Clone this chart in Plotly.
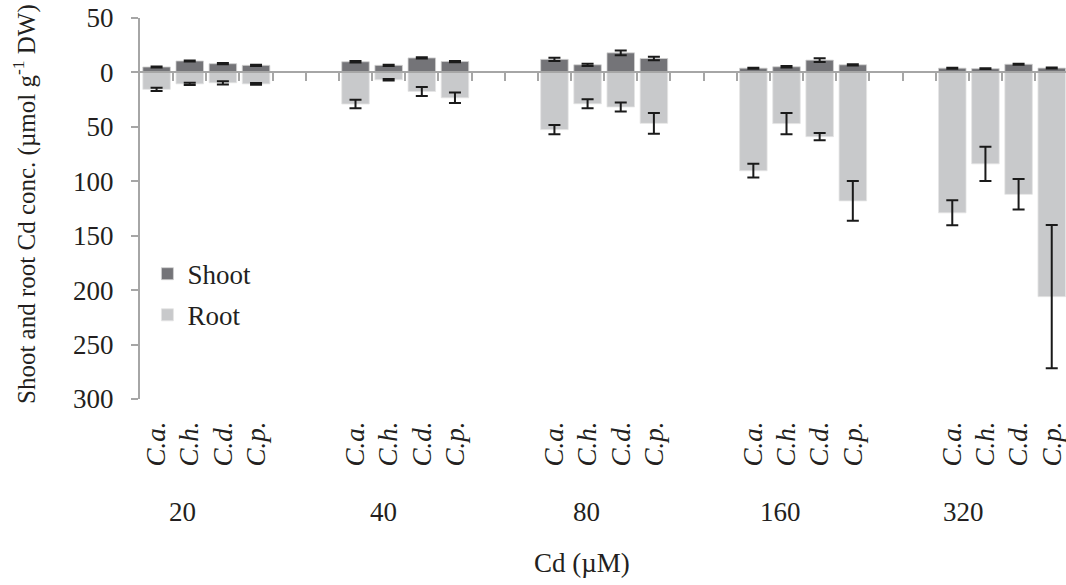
import plotly.graph_objects as go

species = ["C.a.", "C.h.", "C.d.", "C.p."]
concentrations = ["20", "40", "80", "160", "320"]

shoot_mean = [5.0, 10.5, 8.0, 6.5, 9.8, 6.5, 13.3, 10.0, 12.0, 7.0, 18.0, 12.8,
              3.9, 5.2, 11.3, 7.0, 3.9, 3.5, 7.5, 4.0]
shoot_err = [0.5, 0.5, 0.6, 0.5, 0.6, 0.5, 0.6, 0.6, 1.5, 1.0, 2.2, 1.6,
             0.5, 0.6, 1.7, 0.6, 0.5, 0.4, 0.5, 0.5]
root_mean = [15.5, 10.5, 9.5, 10.5, 29.0, 6.7, 17.5, 23.3, 52.5, 28.8, 31.7, 46.8,
             90.3, 47.0, 59.0, 118.0, 129.0, 84.0, 112.0, 206.0]
root_err = [1.5, 1.0, 1.5, 0.8, 4.0, 0.6, 4.2, 4.8, 4.3, 4.1, 4.1, 9.5,
            6.3, 9.7, 3.4, 18.2, 11.5, 15.7, 14.0, 65.8]

y_tick_vals = [50, 0, -50, -100, -150, -200, -250, -300]
y_tick_text = ["50", "0", "50", "100", "150", "200", "250", "300"]

FONT = "Liberation Serif, Times New Roman, serif"
FS = 27
TXT = "#231f20"
AX = "#a6a6a6"

# slot layout: 4 species per group, 2 empty slots between groups
xpos = [6 * g + s for g in range(len(concentrations)) for s in range(len(species))]
group_label_x = [0.77, 6.83, 12.98, 18.81, 24.33]

fig = go.Figure()
fig.add_trace(go.Bar(
    x=xpos, y=shoot_mean, name="Shoot", width=0.83,
    marker=dict(color="#747478", line=dict(color="#d0d0d0", width=0.8)),
    error_y=dict(type="data", array=shoot_err, color="#1a1a1a", thickness=2, width=6),
    legendgroup="a",
))
fig.add_trace(go.Bar(
    x=xpos, y=[-v for v in root_mean], name="Root", width=0.83,
    marker=dict(color="#c8c9cb", line=dict(color="#e4e4e4", width=0.8)),
    error_y=dict(type="data", array=root_err, color="#1a1a1a", thickness=2, width=6),
    legendgroup="b",
))
# invisible trace carrying species tick labels on bottom axis
fig.add_trace(go.Scatter(
    x=xpos, y=[0] * len(xpos), xaxis="x2", mode="markers",
    marker=dict(opacity=0), showlegend=False, hoverinfo="skip",
))

xr = [-0.5, 27.43]
fig.update_layout(
    width=1066, height=585,
    margin=dict(l=140, r=0, t=18, b=186),
    plot_bgcolor="white", paper_bgcolor="white",
    barmode="overlay",
    font=dict(family=FONT, size=FS, color=TXT),
    showlegend=True,
    legend=dict(x=0.008, y=0.392, xanchor="left", yanchor="top",
                bgcolor="rgba(0,0,0,0)", font=dict(size=FS),
                traceorder="grouped", tracegroupgap=3, itemwidth=30),
    xaxis=dict(range=xr, anchor="free", position=300 / 350,
               showline=True, linecolor=AX, linewidth=2,
               tickmode="array", tickvals=[i + 0.5 for i in range(27)],
               ticks="outside", ticklen=8, tickcolor=AX, tickwidth=2,
               showticklabels=False, showgrid=False, zeroline=False),
    xaxis2=dict(range=xr, overlaying="x", anchor="y", side="bottom",
                showline=False, showgrid=False, zeroline=False, ticks="",
                tickmode="array", tickvals=xpos,
                ticktext=["<i>%s</i>" % species[i % 4] for i in range(len(xpos))],
                tickangle=-90, ticklabelstandoff=16, ticklabeloverflow="allow",
                tickfont=dict(family=FONT, size=FS, color=TXT)),
    yaxis=dict(range=[-300, 50], showline=True, linecolor=AX, linewidth=2,
               tickmode="array", tickvals=y_tick_vals, ticktext=y_tick_text,
               ticks="outside", ticklen=7, tickcolor=AX, tickwidth=2,
               ticklabelstandoff=12,
               showgrid=False, zeroline=False,
               tickfont=dict(family=FONT, size=FS, color=TXT)),
)

for c, xc in zip(concentrations, group_label_x):
    fig.add_annotation(x=xc, y=(399 - 512) / 381, xref="x", yref="paper",
                       text=c, showarrow=False, xanchor="center", yanchor="middle",
                       font=dict(family=FONT, size=FS, color=TXT))

fig.add_annotation(x=(582 - 140) / 926, y=(399 - 563) / 381, xref="paper", yref="paper",
                   text="Cd (µM)", showarrow=False, xanchor="center", yanchor="middle",
                   font=dict(family=FONT, size=FS, color=TXT))
fig.add_annotation(x=(24 - 140) / 926, y=(399 - 204) / 381, xref="paper", yref="paper",
                   text="Shoot and root Cd conc. (µmol g<sup>-1</sup> DW)", textangle=-90,
                   showarrow=False, xanchor="center", yanchor="middle",
                   font=dict(family=FONT, size=25, color=TXT))

fig.write_html("out.html")
